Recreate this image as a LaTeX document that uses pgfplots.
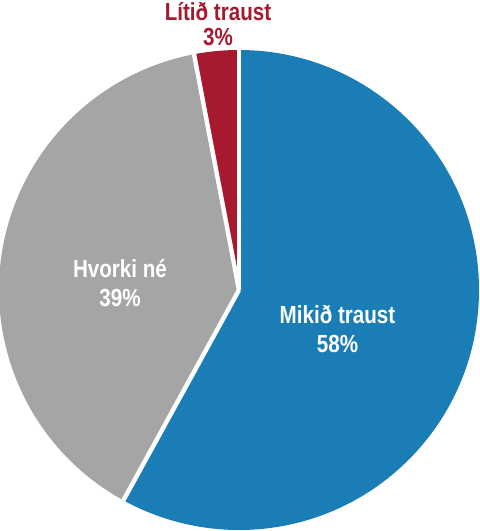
\documentclass[border=0pt]{standalone}
\usepackage{pgfplots}
\pgfplotsset{compat=1.18}
\usepackage{pgfplotstable}
\usepackage{fontspec}
\setmainfont{Liberation Sans}

\definecolor{mikid}{RGB}{26,125,182}
\definecolor{hvorki}{RGB}{166,165,166}
\definecolor{litid}{RGB}{166,25,46}

% share in percent, slices clockwise from 12 o'clock
\pgfplotstableread{
label share color
Mikid 58 mikid
Hvorki 39 hvorki
Litid 3 litid
}\sharetable

% labels in the source are a bit taller than wide
\newcommand{\lbl}[2]{\scalebox{1}[1.2]{\fontsize{10.3}{#1}\selectfont\bfseries
  \begin{tabular}{@{}c@{}}#2\end{tabular}}}

\begin{document}
\begin{tikzpicture}
\begin{axis}[
  hide axis,
  scale only axis,
  x=0.5pt, y=0.5pt,
  xmin=0, xmax=480, ymin=0, ymax=531,
  clip=false,
]
\def\startang{90}
\pgfplotsforeachungrouped \i in {0,1,2}{%
  \pgfplotstablegetelem{\i}{share}\of\sharetable
  \let\val\pgfplotsretval
  \pgfplotstablegetelem{\i}{color}\of\sharetable
  \let\col\pgfplotsretval
  \pgfmathsetmacro{\endang}{\startang-3.6*\val}%
  \edef\temp{\noexpand\fill[\col]
    (axis cs:239,241) -- ++(\startang:120pt)
    arc[start angle=\startang, end angle=\endang, radius=120pt] -- cycle;}%
  \temp
  \let\startang\endang
}
\def\startang{90}
\pgfplotsforeachungrouped \i in {0,1,2}{%
  \pgfplotstablegetelem{\i}{share}\of\sharetable
  \let\val\pgfplotsretval
  \edef\temp{\noexpand\draw[white, line width=2.2pt]
    (axis cs:239,241) -- ++(\startang:120pt);}%
  \temp
  \pgfmathsetmacro{\endang}{\startang-3.6*\val}%
  \let\startang\endang
}
\node[text=white, inner sep=0pt] at (axis cs:337.5,199) {\lbl{12.4}{Mikið traust\\58\%}};
\node[text=white, inner sep=0pt] at (axis cs:120,245) {\lbl{12.4}{Hvorki né\\39\%}};
\node[text=litid, inner sep=0pt] at (axis cs:218,503) {\lbl{10.6}{Lítið traust\\3\%}};
\end{axis}
\pgfresetboundingbox
\path (current axis.south west) rectangle (current axis.north east);
\end{tikzpicture}
\end{document}
